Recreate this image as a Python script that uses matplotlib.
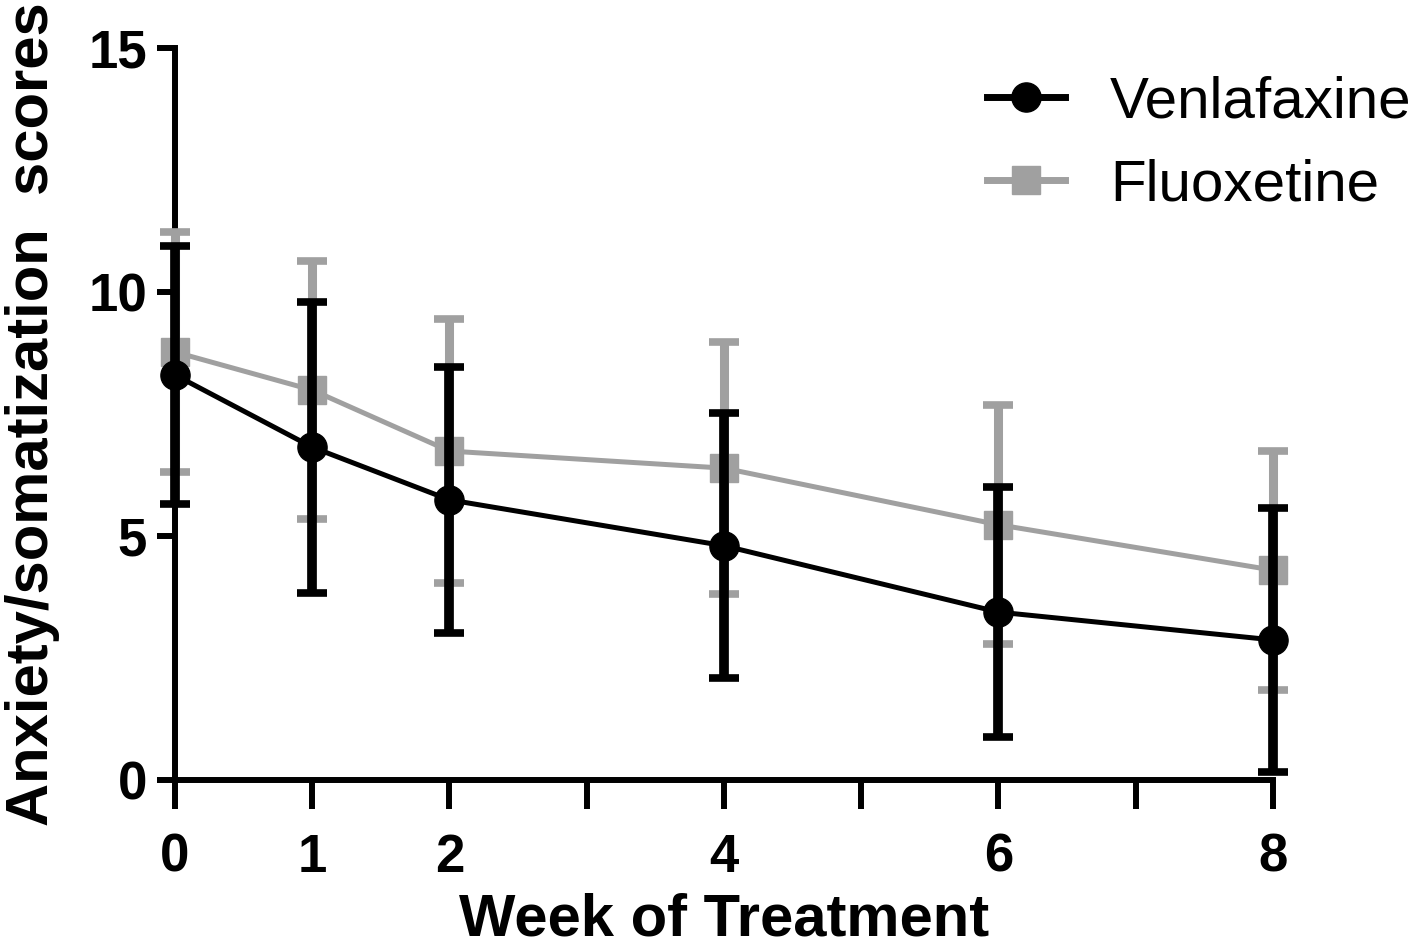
import matplotlib
matplotlib.use("Agg")
import matplotlib.pyplot as plt
from matplotlib.lines import Line2D

weeks = [0, 1, 2, 4, 6, 8]
ven_mean = [8.30, 6.82, 5.74, 4.80, 3.44, 2.87]
ven_sd = [2.64, 2.98, 2.73, 2.72, 2.56, 2.71]
flu_mean = [8.77, 7.99, 6.74, 6.39, 5.23, 4.30]
flu_sd = [2.46, 2.65, 2.71, 2.58, 2.45, 2.45]

xticks = [0, 1, 2, 3, 4, 5, 6, 7, 8]
xtick_labels = ["0", "1", "2", "", "4", "", "6", "", "8"]
yticks = [0, 5, 10, 15]

plt.rcParams['font.family'] = ['Liberation Sans', 'DejaVu Sans']

fig = plt.figure(figsize=(14.18, 9.46), dpi=100)
ax = fig.add_axes([0.1234, 0.1755, 0.8977 - 0.1234, 0.9493 - 0.1755])

grey = '#a0a0a0'
ax.errorbar(weeks, flu_mean, yerr=flu_sd, color=grey, ecolor=grey, lw=3.6,
            elinewidth=6.5, capsize=11, capthick=5.5, marker='s', markersize=20,
            clip_on=False, zorder=2)
ax.errorbar(weeks, ven_mean, yerr=ven_sd, color='black', ecolor='black', lw=3.6,
            elinewidth=7, capsize=11, capthick=5.5, marker='o', markersize=21,
            clip_on=False, zorder=3)

ax.set_xlim(0, 8)
ax.set_ylim(0, 15)
for s in ['top', 'right']:
    ax.spines[s].set_visible(False)
for s in ['left', 'bottom']:
    ax.spines[s].set_linewidth(4.3)
    ax.spines[s].set_zorder(1)

ax.set_xticks(xticks)
ax.set_xticklabels(xtick_labels)
ax.set_yticks(yticks)
ax.tick_params(axis='x', length=21, width=4.3, pad=17, labelsize=38)
ax.tick_params(axis='y', length=13, width=4.3, pad=7, labelsize=38)
for lab in ax.get_xticklabels() + ax.get_yticklabels():
    lab.set_fontweight('bold')

ax.set_xlabel('Week of Treatment', fontsize=43, fontweight='bold', labelpad=7)
ax.set_ylabel('Anxiety/somatization  scores', fontsize=43, fontweight='bold')
ax.yaxis.set_label_coords(-0.105, 0.5)

handles = [Line2D([], [], color='black', lw=5, marker='o', markersize=21),
           Line2D([], [], color=grey, lw=5, marker='s', markersize=20)]
ax.legend(handles, ['Venlafaxine', 'Fluoxetine'], loc='upper left',
          bbox_to_anchor=(0.692, 1.034), frameon=False, fontsize=42,
          handlelength=1.33, handletextpad=0.77, labelspacing=0.49)

fig.savefig('out.png', dpi=100)
